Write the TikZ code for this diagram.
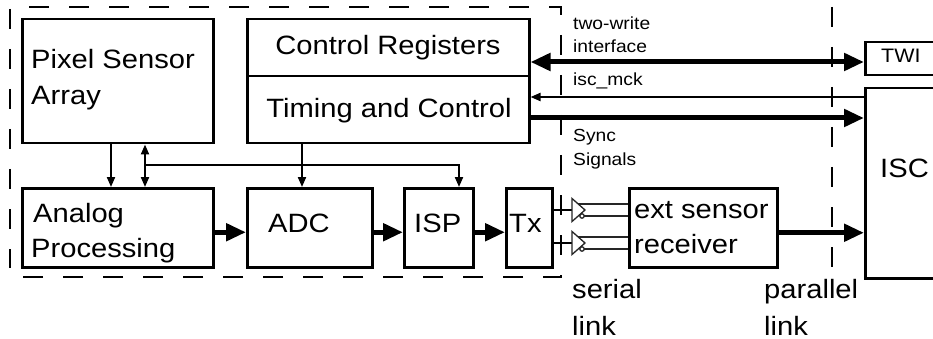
\documentclass[tikz,border=0pt]{standalone}
\usepackage{fontspec}
\setmainfont{Liberation Sans}[FakeStretch=1.1]
\usetikzlibrary{arrows.meta}
\tikzset{
  box/.style={draw, line width=2.5pt, anchor=north west, inner sep=0pt},
  big/.style={inner sep=0pt, anchor=base west, font=\fontsize{26.5}{30}\selectfont},
  small/.style={inner sep=0pt, anchor=base west, font=\fontsize{17.5}{20}\selectfont},
  twifont/.style={inner sep=0pt, anchor=base west, font=\fontsize{19.5}{22}\selectfont},
  thinarr/.style={line width=2pt, -{Triangle[length=10pt,width=8pt]}},
  thinboth/.style={line width=2pt, {Triangle[length=10pt,width=8pt]}-{Triangle[length=10pt,width=8pt]}},
  thickarr/.style={line width=5pt, -{Triangle[length=20pt,width=17pt]}},
  thickboth/.style={line width=5pt, {Triangle[length=20pt,width=17pt]}-{Triangle[length=20pt,width=17pt]}},
  dashline/.style={line width=2.5pt, dash pattern=on 20pt off 20pt},
  wire/.style={line width=1.3pt, black!85},
  feed/.style={line width=2pt},
}
\begin{document}
\begin{tikzpicture}[x=1pt,y=-1pt]
\useasboundingbox (0,0) rectangle (933,339);
\clip (0,0) rectangle (933,339);
\fill[white] (0,0) rectangle (933,339);

% dashed boundaries
\draw[dashline] (10,9) -- (10,268);
\draw[dashline] (29,7) -- (561,7) -- (561,277) -- (21,277);
\draw[dashline] (832,7) -- (832,267);

% boxes
\node[box, minimum width=191pt, minimum height=124pt] (psa) at (21,18) {};
\node[box, minimum width=282pt, minimum height=57pt] (creg) at (246,18) {};
\node[box, minimum width=282pt, minimum height=67pt] (tc) at (246,75) {};
\node[box, minimum width=191pt, minimum height=79pt] (ana) at (21,187) {};
\node[box, minimum width=125pt, minimum height=79pt] (adc) at (246,187) {};
\node[box, minimum width=69pt, minimum height=79pt] (isp) at (403,187) {};
\node[box, minimum width=46pt, minimum height=79pt] (tx) at (505,187) {};
\node[box, minimum width=148pt, minimum height=79pt] (rcv) at (628,187) {};
\node[box, minimum width=100pt, minimum height=190pt] (isc) at (864,87) {};
\node[box, minimum width=100pt, minimum height=33pt] (twi) at (864,41) {};

% vertical connectors
\coordinate (xa) at (111,0);
\coordinate (xb) at (145,0);
\coordinate (xc) at (302,0);
\coordinate (xd) at (459,0);
\coordinate (bus) at (145,165);
\draw[thinarr] (psa.south -| xa) -- (ana.north -| xa);
\draw[thinboth] (psa.south -| xb) -- (ana.north -| xb);
\draw[thinarr] (bus) -| (isp.north -| xd);
\draw[thinarr] (tc.south -| xc) -- (adc.north -| xc);

% data path
\draw[thickarr] ([yshift=-4.5pt]ana.east) -- ([yshift=-4.5pt]adc.west);
\draw[thickarr] ([yshift=-4.5pt]adc.east) -- ([yshift=-4.5pt]isp.west);
\draw[thickarr] ([yshift=-4.5pt]isp.east) -- ([yshift=-4.5pt]tx.west);
\draw[thickarr] ([yshift=-5pt]rcv.east) -- ([yshift=-5pt]rcv.east -| isc.west);

% right side links
\coordinate (ytw) at (0,62);
\coordinate (yck) at (0,97);
\coordinate (ysy) at (0,118);
\draw[thickboth] (creg.east |- ytw) -- (twi.west |- ytw);
\draw[thinarr] (isc.west |- yck) -- (tc.east |- yck);
\draw[thickarr] (tc.east |- ysy) -- (isc.west |- ysy);

% differential buffers
\coordinate (b1) at (572,210);
\coordinate (b2) at (572,243);
\foreach \b in {b1,b2}{
  \draw[feed] (tx.east |- \b) -- (\b);
  \draw[wire] (\b) ++(0,-11.5) -- ++(0,23) -- ++(13,-11.5) -- cycle;
  \coordinate (\b u) at ([shift={(6.2,-6)}]\b);
  \coordinate (\b l) at ([shift={(12.2,6)}]\b);
  \draw[wire] ([shift={(10,6)}]\b) circle (2.2pt);
  \draw[wire] (\b u) -- (\b u -| rcv.west);
  \draw[wire] (\b l) -- (\b l -| rcv.west);
}

% texts
\node[big] (tpsa1) at (31,69) {Pixel Sensor};
\node[big] (tpsa2) at (31,105) {Array};
\node[big, anchor=base] (tcreg) at (388,55) {Control Registers};
\node[big, anchor=base] (ttc) at (389,118) {Timing and Control};
\node[big] (tana1) at (33,222) {Analog};
\node[big] (tana2) at (31,257) {Processing};
\node[big] (tadc) at (268,232) {ADC};
\node[big] (tisp) at (414,232) {ISP};
\node[big] (ttx) at (509,232) {Tx};
\node[big] (trcv1) at (634,218) {ext sensor};
\node[big] (trcv2) at (634,253) {receiver};
\node[big] (tisc) at (880,177) {ISC};
\node[twifont] (ttwi) at (881,63) {TWI};
\node[big] (tser1) at (572,298) {serial};
\node[big] (tser2) at (572,335) {link};
\node[big] (tpar1) at (764,298) {parallel};
\node[big] (tpar2) at (764,335) {link};
\node[small] (ltw1) at (573,30) {two-write};
\node[small] (ltw2) at (573,53) {interface};
\node[small] (lck) at (573,86) {isc\_mck};
\node[small] (lsy1) at (573,142) {Sync};
\node[small] (lsy2) at (573,166) {Signals};
\end{tikzpicture}
\end{document}
